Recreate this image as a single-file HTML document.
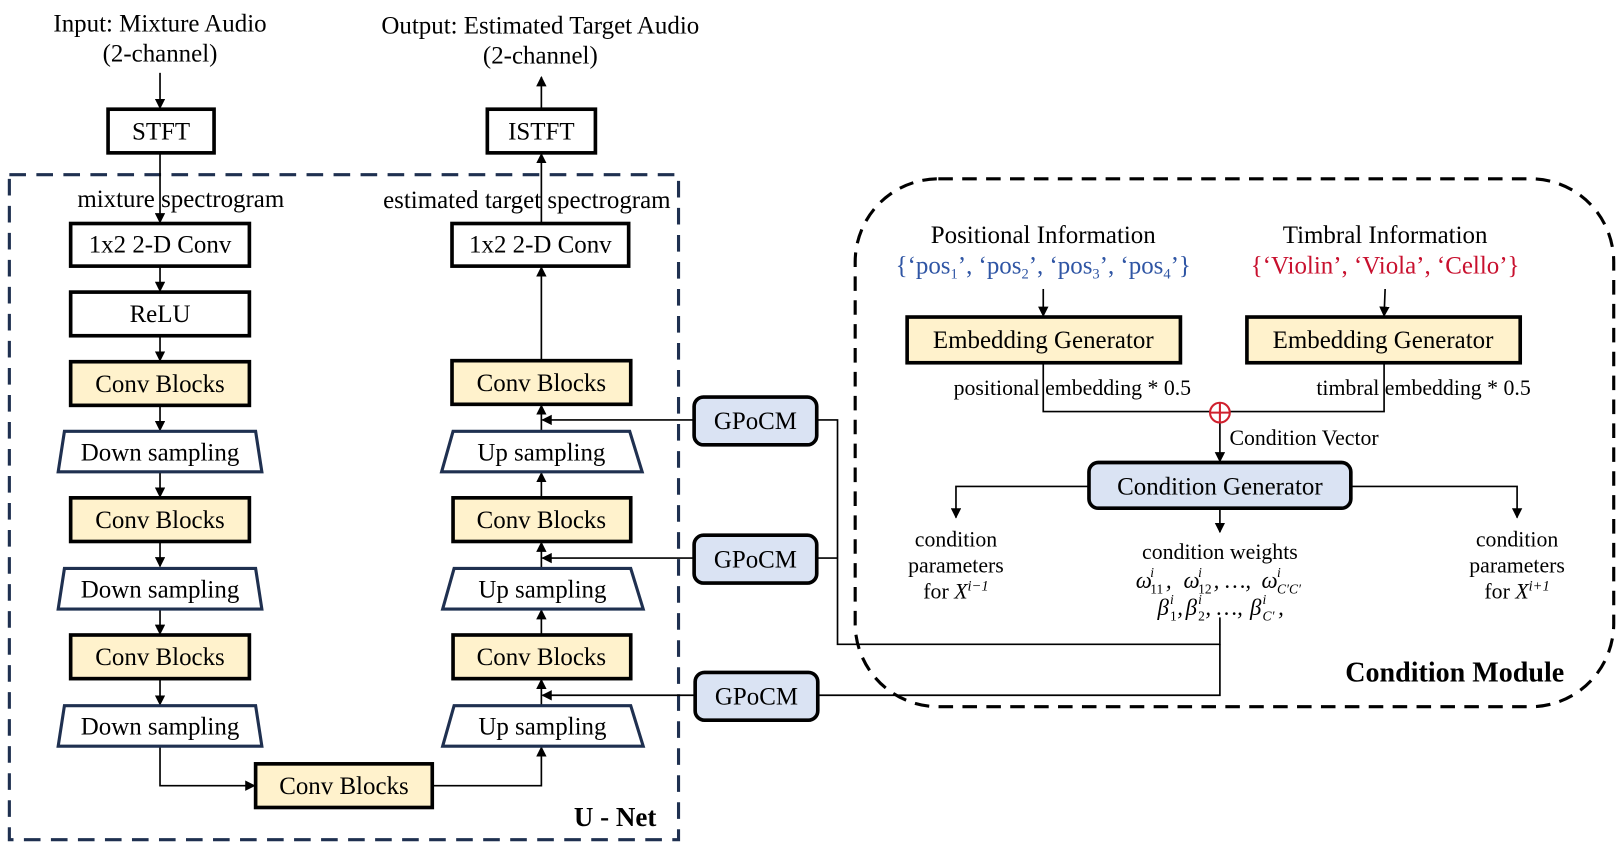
<!DOCTYPE html>
<html><head><meta charset="utf-8"><style>
html,body{margin:0;padding:0;background:#fff;}
svg{display:block;}
text{font-family:"Liberation Serif",serif;fill:#000;}
</style></head><body>
<svg width="1621" height="845" viewBox="0 0 1560 813" xmlns="http://www.w3.org/2000/svg">
<defs>
<marker id="a" markerWidth="10" markerHeight="10" refX="9" refY="5" orient="auto" markerUnits="userSpaceOnUse"><path d="M0,0 L10,5 L0,10 z" fill="#000"/></marker>
</defs>
<g font-size="24" text-anchor="middle">
<text x="154" y="30">Input: Mixture Audio</text>
<text x="154" y="59">(2-channel)</text>
<text x="520" y="32">Output: Estimated Target Audio</text>
<text x="520" y="61">(2-channel)</text>
</g>
<rect x="9" y="168" width="644" height="640" fill="none" stroke="#1f3050" stroke-width="3" stroke-dasharray="16,10"/>
<text x="592" y="795" font-size="26" font-weight="bold" text-anchor="middle">U - Net</text>
<g stroke="#000" stroke-width="1.6" fill="none" marker-end="url(#a)">
<line x1="154" y1="70" x2="154" y2="104"/>
<line x1="154" y1="147" x2="154" y2="214"/>
<line x1="154" y1="256" x2="154" y2="280"/>
<line x1="154" y1="323" x2="154" y2="347"/>
<line x1="154" y1="390" x2="154" y2="414"/>
<line x1="154" y1="454" x2="154" y2="478"/>
<line x1="154" y1="521" x2="154" y2="545"/>
<line x1="154" y1="586" x2="154" y2="610"/>
<line x1="154" y1="653" x2="154" y2="678"/>
<polyline points="154,718 154,756 245,756"/>
<polyline points="416,756 521,756 521,719"/>
<line x1="521" y1="679" x2="521" y2="654"/>
<line x1="521" y1="611" x2="521" y2="587"/>
<line x1="521" y1="546" x2="521" y2="522"/>
<line x1="521" y1="479" x2="521" y2="455"/>
<line x1="521" y1="415" x2="521" y2="390"/>
<line x1="521" y1="347" x2="521" y2="257"/>
<line x1="521" y1="215" x2="521" y2="148"/>
<line x1="521" y1="105" x2="521" y2="74"/>
<line x1="668" y1="404" x2="522" y2="404"/>
<line x1="668" y1="537" x2="522" y2="537"/>
<line x1="668" y1="669" x2="522" y2="669"/>
</g>
<g font-size="24" text-anchor="middle">
<text x="174" y="199">mixture spectrogram</text>
<text x="507" y="200">estimated target spectrogram</text>
</g>
<g stroke="#000" stroke-width="3.5">
<rect x="104" y="105" width="102" height="42" fill="#fff"/>
<rect x="469" y="105" width="104" height="42" fill="#fff"/>
<rect x="68" y="215" width="172" height="41" fill="#fff"/>
<rect x="68" y="281" width="172" height="42" fill="#fff"/>
<rect x="435" y="215" width="170" height="41" fill="#fff"/>
<g fill="#fff2cc">
<rect x="68" y="348" width="172" height="42"/>
<rect x="68" y="479" width="172" height="42"/>
<rect x="68" y="611" width="172" height="42"/>
<rect x="435" y="347" width="172" height="42"/>
<rect x="436" y="479" width="171" height="42"/>
<rect x="436" y="611" width="171" height="42"/>
<rect x="246" y="735" width="170" height="42"/>
<rect x="873" y="305" width="263" height="44"/>
<rect x="1200" y="305" width="263" height="44"/>
</g>
</g>
<g stroke="#1f3050" stroke-width="3" fill="#fff">
<polygon points="62,415 246,415 252,454 56,454"/>
<polygon points="62,547 246,547 252,586 56,586"/>
<polygon points="62,679 246,679 252,718 56,718"/>
<polygon points="436,415 606,415 618,454 425,454"/>
<polygon points="437,547 607,547 619,586 426,586"/>
<polygon points="437,679 607,679 619,718 426,718"/>
</g>
<g stroke="#000" stroke-width="3.5" fill="#dae3f3">
<rect x="668" y="382" width="118" height="46" rx="9"/>
<rect x="668" y="515" width="118" height="46" rx="9"/>
<rect x="669" y="647" width="118" height="46" rx="9"/>
<rect x="1048" y="445" width="252" height="44" rx="9"/>
</g>
<g font-size="24" text-anchor="middle">
<text x="155" y="134">STFT</text>
<text x="521" y="134">ISTFT</text>
<text x="154" y="243">1x2 2-D Conv</text>
<text x="154" y="310">ReLU</text>
<text x="520" y="243">1x2 2-D Conv</text>
<text x="154" y="377">Conv Blocks</text>
<text x="154" y="508">Conv Blocks</text>
<text x="154" y="640">Conv Blocks</text>
<text x="521" y="376">Conv Blocks</text>
<text x="521" y="508">Conv Blocks</text>
<text x="521" y="640">Conv Blocks</text>
<text x="331" y="764">Conv Blocks</text>
<text x="154" y="443">Down sampling</text>
<text x="154" y="575">Down sampling</text>
<text x="154" y="707">Down sampling</text>
<text x="521" y="443">Up sampling</text>
<text x="522" y="575">Up sampling</text>
<text x="522" y="707">Up sampling</text>
<text x="727" y="413">GPoCM</text>
<text x="727" y="546">GPoCM</text>
<text x="728" y="678">GPoCM</text>
<text x="1004" y="335">Embedding Generator</text>
<text x="1331" y="335">Embedding Generator</text>
<text x="1174" y="476">Condition Generator</text>
</g>
<rect x="823" y="172" width="730" height="508" rx="80" fill="none" stroke="#000" stroke-width="3" stroke-dasharray="14,9"/>
<text x="1400" y="656" font-size="27" font-weight="bold" text-anchor="middle">Condition Module</text>
<g stroke="#000" stroke-width="1.6" fill="none">
<polyline points="786,404 806,404 806,620 1174,620 1174,594"/>
<line x1="786" y1="537" x2="806" y2="537"/>
<polyline points="787,669 1174,669 1174,620"/>
<polyline points="1004,349 1004,396 1332,396 1332,349"/>
</g>
<g stroke="#000" stroke-width="1.6" fill="none" marker-end="url(#a)">
<line x1="1004" y1="278" x2="1004" y2="304"/>
<line x1="1333" y1="278" x2="1332" y2="304"/>
<line x1="1174" y1="406" x2="1174" y2="444"/>
<polyline points="1048,468 920,468 920,498"/>
<polyline points="1300,468 1460,468 1460,498"/>
<line x1="1174" y1="489" x2="1174" y2="512"/>
</g>
<circle cx="1174" cy="397" r="9.5" fill="#fff" stroke="#d0202e" stroke-width="2"/>
<line x1="1164.5" y1="397" x2="1183.5" y2="397" stroke="#d0202e" stroke-width="2"/>
<line x1="1174" y1="387.5" x2="1174" y2="406.5" stroke="#d0202e" stroke-width="2"/>
<g font-size="24" text-anchor="middle">
<text x="1004" y="234">Positional Information</text>
<text x="1333" y="234">Timbral Information</text>
<text x="1004" y="263" style="fill:#2f55a4">{‘pos<tspan font-size="14" dy="5">1</tspan><tspan dy="-5">’, ‘pos</tspan><tspan font-size="14" dy="5">2</tspan><tspan dy="-5">’, ‘pos</tspan><tspan font-size="14" dy="5">3</tspan><tspan dy="-5">’, ‘pos</tspan><tspan font-size="14" dy="5">4</tspan><tspan dy="-5">’}</tspan></text>
<text x="1333" y="263" style="fill:#c8102e">{‘Violin’, ‘Viola’, ‘Cello’}</text>
</g>
<g font-size="21" text-anchor="middle">
<text x="1032" y="380">positional embedding * 0.5</text>
<text x="1370" y="380">timbral embedding * 0.5</text>
<text x="1255" y="428">Condition Vector</text>
<text x="920" y="526">condition</text>
<text x="920" y="551">parameters</text>
<text x="920" y="576">for <tspan font-style="italic">X</tspan><tspan font-size="14" dy="-8" font-style="italic">i−1</tspan></text>
<text x="1460" y="526">condition</text>
<text x="1460" y="551">parameters</text>
<text x="1460" y="576">for <tspan font-style="italic">X</tspan><tspan font-size="14" dy="-8" font-style="italic">i+1</tspan></text>
<text x="1174" y="538">condition weights</text>
</g>
<g font-size="22" font-style="italic" font-family="Liberation Serif">
<text x="1093" y="566">ω</text><text x="1107" y="555" font-size="13">i</text><text x="1107" y="571" font-size="13" font-style="normal">11</text><text x="1122" y="566">,</text>
<text x="1139" y="566">ω</text><text x="1153" y="555" font-size="13">i</text><text x="1153" y="571" font-size="13" font-style="normal">12</text><text x="1168" y="566">, …,</text>
<text x="1214" y="566">ω</text><text x="1229" y="555" font-size="13">i</text><text x="1229" y="571" font-size="13">C′C′</text>
<text x="1114" y="592">β</text><text x="1126" y="581" font-size="13">i</text><text x="1126" y="597" font-size="13" font-style="normal">1</text><text x="1133" y="592">,</text>
<text x="1141" y="592">β</text><text x="1153" y="581" font-size="13">i</text><text x="1153" y="597" font-size="13" font-style="normal">2</text><text x="1160" y="592">, …,</text>
<text x="1203" y="592">β</text><text x="1215" y="581" font-size="13">i</text><text x="1215" y="597" font-size="13">C′</text><text x="1230" y="592">,</text>
</g>
</svg>
</body></html>
